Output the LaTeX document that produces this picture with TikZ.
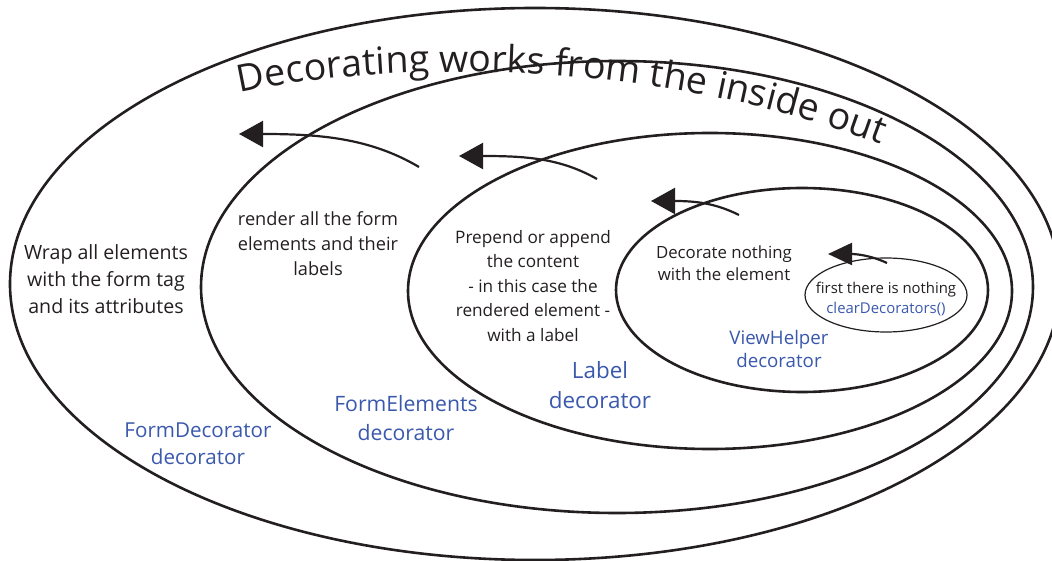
\documentclass[tikz,border=0pt]{standalone}
\usepackage{fontspec}
\setmainfont{Open Sans}
\usetikzlibrary{arrows.meta,shapes.geometric,decorations.text}
\definecolor{ink}{RGB}{35,31,32}
\definecolor{decblue}{RGB}{58,88,172}
\begin{document}
\begin{tikzpicture}[x=1pt,y=-1pt,
  ring/.style={shape=ellipse, draw=ink, line width=2.6pt, inner sep=0pt},
  txt/.style={align=center, text=ink, font=\fontsize{18}{25}\selectfont},
  declabel/.style={align=center, text=decblue},
  outward/.style={draw=ink, line width=2.2pt, -{Triangle[length=24pt,width=26pt]}}]
\useasboundingbox (0,0) rectangle (1052,561);
% the nested decorators
\node[ring, minimum width=1050pt, minimum height=552pt] (formdec) at (535,284) {};
\node[ring, minimum width=832pt, minimum height=452pt] (formel) at (617,287) {};
\node[ring, minimum width=604pt, minimum height=316pt] (labeldec) at (710,291) {};
\node[ring, minimum width=372pt, minimum height=204pt] (viewhelper) at (802,290) {};
\node[ring, line width=1.2pt, minimum width=162pt, minimum height=74pt] (nothing) at (886,295) {};
\node[txt, font=\fontsize{14.9}{20}\selectfont] (nothingtxt) at (886,299)
  {first there is nothing\\ \textcolor{decblue}{clearDecorators()}};
% title along the top
\path[decorate, decoration={text along path, text align=center,
  text={|\fontsize{37.5}{37.5}\selectfont\color{ink}|Decorating works from the inside out}}]
  (230,95) .. controls (360,64) and (640,50) .. (890,148);
% what each layer does
\node[txt, font=\fontsize{19.6}{27}\selectfont] (wrap) at (106,279) {Wrap all elements\\with the form tag\\and its attributes};
\node[txt, font=\fontsize{18.2}{25}\selectfont] (render) at (318,244) {render all the form\\elements and their\\labels};
\node[txt, font=\fontsize{17.2}{24.5}\selectfont] (prepend) at (533,286) {Prepend or append\\the content\\- in this case the\\rendered element -\\with a label};
\node[txt, font=\fontsize{16.8}{22}\selectfont] (decnothing) at (724,263) {Decorate nothing\\with the element};
% decorator names
\node[declabel, font=\fontsize{20.6}{27}\selectfont] (formdecname) at (198,444) {FormDecorator\\decorator};
\node[declabel, font=\fontsize{21.2}{29}\selectfont] (formelname) at (406,418) {FormElements\\decorator};
\node[declabel, font=\fontsize{22.4}{30}\selectfont] (labelname) at (600,385) {Label\\decorator};
\node[declabel, font=\fontsize{18.7}{23}\selectfont] (vhname) at (779,349) {ViewHelper\\decorator};
% arrows pointing outward
\coordinate (t1) at (419,167); \coordinate (h1) at (239,134);
\coordinate (t2) at (597,179); \coordinate (h2) at (459,156);
\coordinate (t3) at (739,215); \coordinate (h3) at (651,201);
\coordinate (t4) at (887,263); \coordinate (h4) at (828,254);
\draw[outward] (t1) .. controls (370,138) and (320,134) .. (h1);
\draw[outward] (t2) .. controls (560,158) and (525,156) .. (h2);
\draw[outward] (t3) .. controls (715,203) and (695,201) .. (h3);
\draw[outward, -{Triangle[length=24pt,width=22pt]}] (t4) .. controls (870,255) and (855,254) .. (h4);
\end{tikzpicture}
\end{document}
